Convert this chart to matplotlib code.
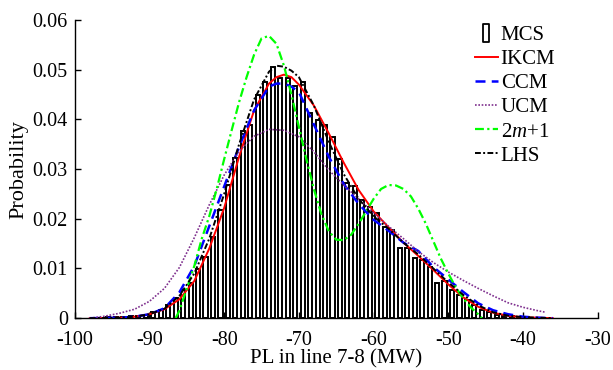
import numpy as np
import matplotlib
matplotlib.use('Agg')
import matplotlib.pyplot as plt
from matplotlib.lines import Line2D
from matplotlib.path import Path

plt.rcParams['font.family'] = ['Liberation Serif', 'DejaVu Serif']
plt.rcParams['mathtext.fontset'] = 'custom'
plt.rcParams['mathtext.it'] = 'Liberation Serif:italic'
plt.rcParams['mathtext.rm'] = 'Liberation Serif'
plt.rcParams['axes.unicode_minus'] = False

# MCS histogram (bin centres, probability per bin)
mcs_centers = np.arange(-97.5, -36.5 + 0.01, 1.0)
mcs_heights = [
    0.0001, 0.0001, 0.0002, 0.0002, 0.0003, 0.0004, 0.0005, 0.0007,   # -97.5 .. -90.5
    0.0012, 0.0016, 0.0026, 0.0040, 0.0056, 0.0070, 0.0099, 0.0123,   # -89.5 .. -82.5
    0.0164, 0.0217, 0.0268, 0.0322, 0.0376, 0.0388, 0.0449, 0.0476,   # -81.5 .. -74.5
    0.0506, 0.0483, 0.0483, 0.0468, 0.0475, 0.0413, 0.0399, 0.0389,   # -73.5 .. -66.5
    0.0364, 0.0321, 0.0272, 0.0265, 0.0238, 0.0224, 0.0211, 0.0183,   # -65.5 .. -58.5
    0.0177, 0.0141, 0.0141, 0.0121, 0.0117, 0.0103, 0.0070, 0.0075,   # -57.5 .. -50.5
    0.0056, 0.0046, 0.0036, 0.0026, 0.0016, 0.0012, 0.0007, 0.0005,   # -49.5 .. -42.5
    0.0004, 0.0003, 0.0002, 0.0001, 0.0001, 0.0001,                   # -41.5 .. -36.5
]

ikcm_x = [-98, -94, -92, -90, -88, -86, -84, -82, -80, -78, -76, -74, -73, -72, -71, -70,
          -68, -66, -64, -62, -60, -58, -56, -54, -52, -50, -48, -46, -44, -42, -40, -38, -36]
ikcm_y = [0.0, 0.0001, 0.0003, 0.0008, 0.0018, 0.0038, 0.0075, 0.0140, 0.0222, 0.0325, 0.0418,
          0.0472, 0.0485, 0.0490, 0.0485, 0.0470, 0.0428, 0.0372, 0.0313, 0.0258, 0.0215,
          0.0183, 0.0152, 0.0125, 0.0097, 0.0068, 0.0042, 0.0023, 0.0011, 0.0005, 0.0002,
          0.0001, 0.0]

ccm_x = [-98, -94, -92, -90, -88, -86, -84, -82, -80, -78, -76, -74, -73, -72, -71, -70,
         -68, -66, -64, -62, -60, -58, -56, -54, -52, -50, -48, -46, -44, -42, -40, -38, -36]
ccm_y = [0.0, 0.0001, 0.0003, 0.0008, 0.0020, 0.0052, 0.0105, 0.0185, 0.0265, 0.0345, 0.0418,
         0.0466, 0.0472, 0.0472, 0.0466, 0.0455, 0.0390, 0.0325, 0.0270, 0.0230, 0.0198,
         0.0176, 0.0152, 0.0135, 0.0103, 0.0078, 0.0053, 0.0030, 0.0016, 0.0008, 0.0003,
         0.0001, 0.0]

ucm_x = [-98, -96, -94, -92, -90, -88, -86, -84, -82, -80, -78, -76, -74, -72, -70, -68,
         -66, -64, -62, -60, -58, -56, -54, -52, -50, -48, -46, -44, -42, -40, -38, -37]
ucm_y = [0.0, 0.0004, 0.0010, 0.0018, 0.0034, 0.0060, 0.0102, 0.0162, 0.0228, 0.0288,
         0.0336, 0.0366, 0.0380, 0.0378, 0.0365, 0.0335, 0.0298, 0.0268, 0.0240, 0.0212,
         0.0185, 0.0160, 0.0134, 0.0112, 0.0093, 0.0076, 0.0060, 0.0045, 0.0031, 0.0022,
         0.0015, 0.0012]

m21_x = [-86.5, -86, -85, -84, -83, -82, -81, -80, -79, -78, -77, -76, -75, -74, -73, -72,
         -71, -70, -69, -68, -67, -66, -65, -64, -63, -62, -61, -60, -59, -58, -57, -56,
         -55, -54, -53, -52, -51, -50, -49, -48, -47, -46, -45.5]
m21_y = [0.0, 0.0015, 0.0060, 0.0105, 0.0160, 0.0205, 0.0260, 0.0320, 0.0378, 0.0435,
         0.0485, 0.0530, 0.0563, 0.0568, 0.0552, 0.0508, 0.0450, 0.0385, 0.0320, 0.0260,
         0.0210, 0.0175, 0.0158, 0.0157, 0.0168, 0.0190, 0.0215, 0.0240, 0.0260, 0.0268,
         0.0267, 0.0260, 0.0245, 0.0220, 0.0190, 0.0155, 0.0120, 0.0090, 0.0062, 0.0040,
         0.0022, 0.0008, 0.0]

lhs_x = [-98, -94, -92, -90, -88, -86, -84, -82, -80, -78, -76, -74, -73, -72, -71, -70,
         -68, -66, -64, -62, -60, -58, -56, -54, -52, -50, -48, -46, -44, -42, -40, -38, -36]
lhs_y = [0.0, 0.0001, 0.0003, 0.0008, 0.0019, 0.0045, 0.0090, 0.0160, 0.0250, 0.0350, 0.0440,
         0.0496, 0.0508, 0.0506, 0.0498, 0.0485, 0.0428, 0.0355, 0.0290, 0.0240, 0.0205,
         0.0180, 0.0152, 0.0128, 0.0100, 0.0072, 0.0047, 0.0026, 0.0012, 0.0005, 0.0002,
         0.0001, 0.0]

fig = plt.figure(figsize=(6.13, 3.70), dpi=100)
ax = fig.add_axes([0.122, 0.14, 0.853, 0.806])

ax.bar(mcs_centers, mcs_heights, width=0.55, facecolor='white', edgecolor='black',
       linewidth=1.4, zorder=1)
ax.plot(ikcm_x, ikcm_y, color='red', lw=1.4, zorder=3)
ax.plot(ccm_x, ccm_y, color='blue', lw=1.8, ls=(0, (4, 2.5)), zorder=3)
ax.plot(ucm_x, ucm_y, color='#7e2f8e', lw=1.2, ls=(0, (1, 1)), zorder=3)
ax.plot(m21_x, m21_y, color='#00ff00', lw=1.6, ls=(0, (4, 1.5, 1, 1.5)), zorder=3)
ax.plot(lhs_x, lhs_y, color='black', lw=1.4, ls=(0, (3, 1.2, 1, 1.2)), zorder=4)

ax.set_xlim(-100, -30)
ax.set_ylim(0, 0.06)
ax.set_xticks(np.arange(-100, -29, 10))
ax.set_yticks(np.arange(0, 0.061, 0.01))
ax.set_yticklabels(['0', '0.01', '0.02', '0.03', '0.04', '0.05', '0.06'])
ax.tick_params(direction='in', labelsize=14.5, length=4, width=1)
ax.tick_params(axis='x', pad=9)
ax.tick_params(axis='y', pad=5)
ax.spines['top'].set_visible(False)
ax.spines['right'].set_visible(False)
ax.spines['left'].set_linewidth(1)
ax.spines['bottom'].set_linewidth(1)
ax.set_xlabel('PL in line 7-8 (MW)', fontsize=15, labelpad=0)
ax.set_ylabel('Probability', fontsize=16, labelpad=3)

rect = Path([(-0.35, -1), (0.35, -1), (0.35, 1), (-0.35, 1), (-0.35, -1)],
            [Path.MOVETO, Path.LINETO, Path.LINETO, Path.LINETO, Path.CLOSEPOLY])
handles = [
    Line2D([], [], ls='none', marker=rect, markersize=13, markerfacecolor='white',
           markeredgecolor='black', markeredgewidth=1.3),
    Line2D([], [], color='red', lw=1.4),
    Line2D([], [], color='blue', lw=1.8, ls=(0, (4, 2.5))),
    Line2D([], [], color='#7e2f8e', lw=1.2, ls=(0, (1, 1))),
    Line2D([], [], color='#00ff00', lw=1.6, ls=(0, (4, 1.5, 1, 1.5))),
    Line2D([], [], color='black', lw=1.4, ls=(0, (3, 1.2, 1, 1.2))),
]
labels = ['MCS', 'IKCM', 'CCM', 'UCM', '2$m$+1', 'LHS']
ax.legend(handles, labels, loc='upper right', bbox_to_anchor=(0.935, 1.01), frameon=False,
          fontsize=15, handlelength=1.1, handletextpad=0.15, labelspacing=0.22,
          borderaxespad=0.0)

fig.savefig('out.png', dpi=100)
